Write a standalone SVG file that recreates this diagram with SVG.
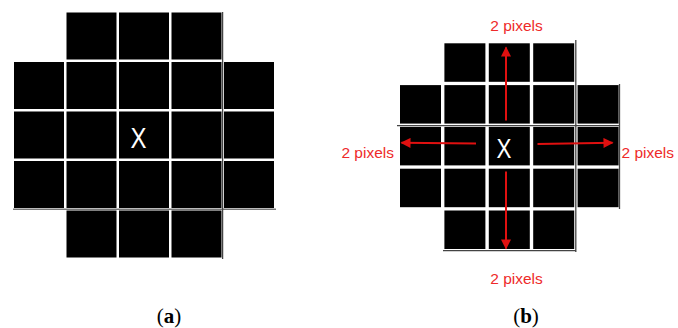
<svg xmlns="http://www.w3.org/2000/svg" width="678" height="328" viewBox="0 0 678 328">
<defs>
<style>
.ca{fill:#000}
.cb{fill:#000}
.x{fill:#fff;font-family:"Liberation Sans",Arial,sans-serif;text-anchor:middle}
.lbl{fill:#ee2a2a;font-family:"Liberation Sans",Arial,sans-serif;font-size:15.5px}
.cap{font-family:"Liberation Serif","Times New Roman",serif;font-size:21px;fill:#000;text-anchor:middle}
.arr{stroke:#e01010;stroke-width:2;fill:none;marker-end:url(#ah)}
.dk{stroke:#444;stroke-width:1.3}
.gr{stroke:#777;stroke-width:1.5}
</style>
<marker id="ah" viewBox="0 0 10 10" refX="9" refY="5" markerWidth="5.5" markerHeight="5" orient="auto" markerUnits="strokeWidth">
<path d="M0,0 L10,5 L0,10 z" fill="#e01010"/>
</marker>
</defs>
<rect width="678" height="328" fill="#fff"/>

<g id="panel-a">
<g id="a-cells">
<rect class="ca" x="66.5" y="12.5" width="50" height="47"/><rect class="ca" x="119" y="12.5" width="50" height="47"/><rect class="ca" x="171.5" y="12.5" width="50" height="47"/>
<rect class="ca" x="14" y="62" width="50" height="47"/><rect class="ca" x="66.5" y="62" width="50" height="47"/><rect class="ca" x="119" y="62" width="50" height="47"/><rect class="ca" x="171.5" y="62" width="50" height="47"/><rect class="ca" x="224" y="62" width="50" height="47"/>
<rect class="ca" x="14" y="111.5" width="50" height="47"/><rect class="ca" x="66.5" y="111.5" width="50" height="47"/><rect class="ca" x="119" y="111.5" width="50" height="47"/><rect class="ca" x="171.5" y="111.5" width="50" height="47"/><rect class="ca" x="224" y="111.5" width="50" height="47"/>
<rect class="ca" x="14" y="161" width="50" height="47"/><rect class="ca" x="66.5" y="161" width="50" height="47"/><rect class="ca" x="119" y="161" width="50" height="47"/><rect class="ca" x="171.5" y="161" width="50" height="47"/><rect class="ca" x="224" y="161" width="50" height="47"/>
<rect class="ca" x="66.5" y="210.5" width="50" height="47"/><rect class="ca" x="119" y="210.5" width="50" height="47"/><rect class="ca" x="171.5" y="210.5" width="50" height="47"/>
</g>
<line class="gr" x1="13" y1="209.3" x2="276" y2="209.3"/>
<line class="dk" x1="222.6" y1="12" x2="222.6" y2="259"/>
<text class="x" transform="translate(138.5,147.5) scale(0.8,1)" font-size="30">X</text>
<text class="cap" x="169" y="323">(<tspan font-weight="bold">a</tspan>)</text>
</g>

<g id="panel-b">
<g id="b-cells">
<rect class="cb" x="444.4" y="43.3" width="41" height="38.5"/><rect class="cb" x="488.8" y="43.3" width="41" height="38.5"/><rect class="cb" x="533.2" y="43.3" width="41" height="38.5"/>
<rect class="cb" x="400" y="85.1" width="41" height="38.5"/><rect class="cb" x="444.4" y="85.1" width="41" height="38.5"/><rect class="cb" x="488.8" y="85.1" width="41" height="38.5"/><rect class="cb" x="533.2" y="85.1" width="41" height="38.5"/><rect class="cb" x="577.6" y="85.1" width="41" height="38.5"/>
<rect class="cb" x="400" y="126.9" width="41" height="38.5"/><rect class="cb" x="444.4" y="126.9" width="41" height="38.5"/><rect class="cb" x="488.8" y="126.9" width="41" height="38.5"/><rect class="cb" x="533.2" y="126.9" width="41" height="38.5"/><rect class="cb" x="577.6" y="126.9" width="41" height="38.5"/>
<rect class="cb" x="400" y="168.7" width="41" height="38.5"/><rect class="cb" x="444.4" y="168.7" width="41" height="38.5"/><rect class="cb" x="488.8" y="168.7" width="41" height="38.5"/><rect class="cb" x="533.2" y="168.7" width="41" height="38.5"/><rect class="cb" x="577.6" y="168.7" width="41" height="38.5"/>
<rect class="cb" x="444.4" y="210.5" width="41" height="38.5"/><rect class="cb" x="488.8" y="210.5" width="41" height="38.5"/><rect class="cb" x="533.2" y="210.5" width="41" height="38.5"/>
</g>
<line class="dk" x1="575.8" y1="40" x2="575.8" y2="252"/>
<line class="dk" x1="397" y1="125.6" x2="620" y2="125.6"/>
<line class="dk" x1="619.5" y1="84" x2="619.5" y2="209"/>
<line class="dk" x1="443" y1="250.6" x2="576" y2="250.6"/>
<text class="x" transform="translate(504,157.5) scale(0.8,1)" font-size="28">X</text>
<g id="connectors">
<line class="arr" x1="506" y1="120.5" x2="506" y2="47.5"/>
<line class="arr" x1="506" y1="171.5" x2="506" y2="248.5"/>
<line class="arr" x1="476" y1="143.5" x2="401.5" y2="142.8"/>
<line class="arr" x1="537.5" y1="144" x2="612.5" y2="142.8"/>
</g>
<text class="lbl" x="516.5" y="31" text-anchor="middle">2 pixels</text>
<text class="lbl" x="394" y="158" text-anchor="end">2 pixels</text>
<text class="lbl" x="621.5" y="158">2 pixels</text>
<text class="lbl" x="516.5" y="284" text-anchor="middle">2 pixels</text>
<text class="cap" x="526" y="323">(<tspan font-weight="bold">b</tspan>)</text>
</g>
</svg>
